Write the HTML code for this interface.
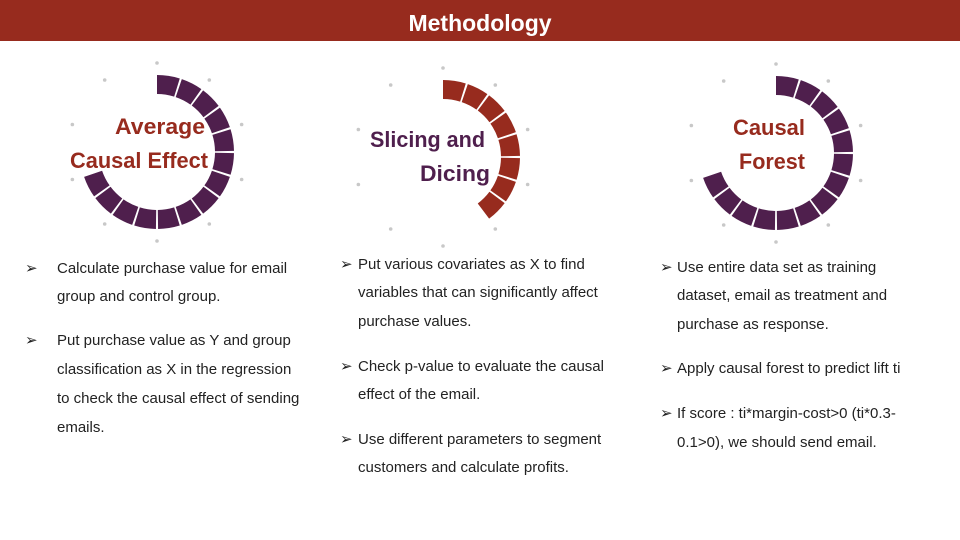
<!DOCTYPE html>
<html><head><meta charset="utf-8"><style>
body{margin:0;width:960px;height:540px;background:#fff;position:relative;overflow:hidden;font-family:"Liberation Sans",sans-serif}
#hdr{position:absolute;left:0;top:0;width:960px;height:41px;background:#972b1e;color:#fff;font-weight:bold;font-size:23px;text-align:center;line-height:46px}
.t{position:absolute;font-size:15px;color:#222;white-space:nowrap;line-height:20px}
.b{position:absolute;font-size:15px;color:#222;line-height:20px}
svg{position:absolute;left:0;top:0}
</style></head><body>
<div id="hdr">Methodology</div>
<svg id="rings" width="960" height="540"></svg>

<div>
<div class="b" style="left:25px;top:259px">➢</div>
<div class="t" style="left:57px;top:259px">Calculate purchase value for email</div>
<div class="t" style="left:57px;top:287px">group and control group.</div>
<div class="b" style="left:25px;top:331px">➢</div>
<div class="t" style="left:57px;top:331px">Put purchase value as Y and group</div>
<div class="t" style="left:57px;top:360px">classification as X in the regression</div>
<div class="t" style="left:57px;top:389px">to check the causal effect of sending</div>
<div class="t" style="left:57px;top:418px">emails.</div>
</div>
<div>
<div class="b" style="left:340px;top:255px">➢</div>
<div class="t" style="left:358px;top:255px">Put various covariates as X to find</div>
<div class="t" style="left:358px;top:283px">variables that can significantly affect</div>
<div class="t" style="left:358px;top:312px">purchase values.</div>
<div class="b" style="left:340px;top:357px">➢</div>
<div class="t" style="left:358px;top:357px">Check p-value to evaluate the causal</div>
<div class="t" style="left:358px;top:385px">effect of the email.</div>
<div class="b" style="left:340px;top:430px">➢</div>
<div class="t" style="left:358px;top:430px">Use different parameters to segment</div>
<div class="t" style="left:358px;top:458px">customers and calculate profits.</div>
</div>
<div>
<div class="b" style="left:660px;top:258px">➢</div>
<div class="t" style="left:677px;top:258px">Use entire data set as training</div>
<div class="t" style="left:677px;top:286px">dataset, email as treatment and</div>
<div class="t" style="left:677px;top:315px">purchase as response.</div>
<div class="b" style="left:660px;top:359px">➢</div>
<div class="t" style="left:677px;top:359px">Apply causal forest to predict lift ti</div>
<div class="b" style="left:660px;top:404px">➢</div>
<div class="t" style="left:677px;top:404px">If score : ti*margin-cost&gt;0 (ti*0.3-</div>
<div class="t" style="left:677px;top:433px">0.1&gt;0), we should send email.</div>
</div>

<script>
const ringNames=["average-causal-effect","slicing-and-dicing","causal-forest"];
const ringSegments=[14,8,14];
const ringCx=[157,443,776];
const ringCy=[152,157,153];
const ringColors=["#4f1f4d","#972b1e","#4f1f4d"];
const ringLabels=[["Average","Causal Effect"],["Slicing and","Dicing"],["Causal","Forest"]];
const labelColors=["#972b1e","#4f1f4d","#972b1e"];
const labelX=[[115,70],[370,420],[733,739]];
const labelW=[[90,138],[115,70],[72,66]];
const labelY=[[134,168],[147,181],[135,169]];
const NS="http://www.w3.org/2000/svg";
const svg=document.getElementById('rings');
function pt(cx,cy,r,a){const t=(a-90)*Math.PI/180;return [cx+r*Math.cos(t),cy+r*Math.sin(t)];}
const R1=77,R0=58,STEP=18,GAP=0.8;
for(let i=0;i<ringNames.length;i++){
  const cx=ringCx[i],cy=ringCy[i];
  for(let k=0;k<10;k++){
    const a=k*36;const p=pt(cx,cy,89,a);
    const d=document.createElementNS(NS,'circle');
    d.setAttribute('cx',p[0]);d.setAttribute('cy',p[1]);d.setAttribute('r',1.8);d.setAttribute('fill','#c8c8c8');
    
    
    svg.appendChild(d);
  }
  for(let s=0;s<ringSegments[i];s++){
    const a0=s*STEP+(s?GAP:0),a1=(s+1)*STEP-GAP;
    const p1=pt(cx,cy,R1,a0),p2=pt(cx,cy,R1,a1),p3=pt(cx,cy,R0,a1),p4=pt(cx,cy,R0,a0);
    const path=document.createElementNS(NS,'path');
    path.setAttribute('d',`M${p1}A${R1},${R1} 0 0 1 ${p2}L${p3}A${R0},${R0} 0 0 0 ${p4}Z`);
    path.setAttribute('fill',ringColors[i]);
    
    
    svg.appendChild(path);
  }
  for(let l=0;l<2;l++){
    const t=document.createElementNS(NS,'text');
    t.setAttribute('x',labelX[i][l]);t.setAttribute('y',labelY[i][l]);
    t.setAttribute('font-size','22');t.setAttribute('font-weight','bold');
    t.setAttribute('textLength',labelW[i][l]);t.setAttribute('lengthAdjust','spacingAndGlyphs');
    t.setAttribute('font-family','Liberation Sans, sans-serif');
    t.setAttribute('fill',labelColors[i]);
    t.textContent=ringLabels[i][l];
    
    
    svg.appendChild(t);
  }
}
</script>
</body></html>
